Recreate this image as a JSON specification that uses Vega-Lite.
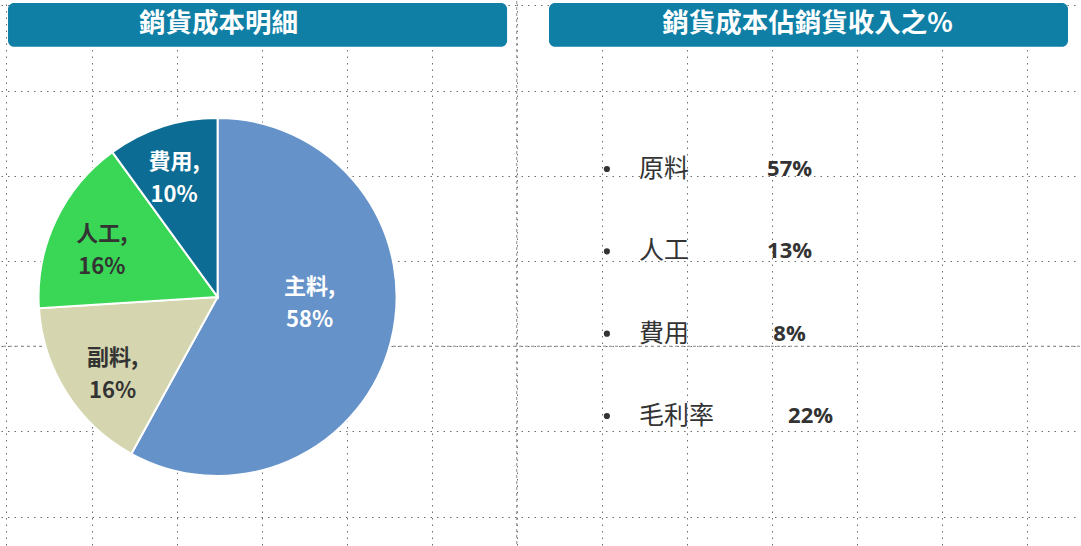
{
  "$schema": "https://vega.github.io/schema/vega-lite/v6.json",
  "width": 1081,
  "height": 546,
  "autosize": {"type": "fit", "contains": "padding"},
  "padding": 0,
  "background": "white",
  "config": {
    "view": {"stroke": null},
    "font": "Noto Sans CJK TC",
    "axis": {"grid": true, "labels": false, "ticks": false, "domain": false, "title": null, "gridDash": [1.5, 5], "gridColor": "#555555", "gridWidth": 1, "gridOpacity": 0.85}
  },
  "datasets": {
    "titles": [
      {"panel": "left", "title": "銷貨成本明細"},
      {"panel": "right", "title": "銷貨成本佔銷貨收入之%"}
    ],
    "pie": [
      {"cat": "主料", "value": 58, "ord": 1},
      {"cat": "副料", "value": 16, "ord": 2},
      {"cat": "人工", "value": 16, "ord": 3},
      {"cat": "費用", "value": 10, "ord": 4}
    ],
    "ratio": [
      {"item": "原料", "pct": 0.57},
      {"item": "人工", "pct": 0.13},
      {"item": "費用", "pct": 0.08},
      {"item": "毛利率", "pct": 0.22}
    ]
  },
  "resolve": {"scale": {"y": "independent"}},
  "layer": [
    {
      "layer": [
        {
          "data": {"values": [{}]},
          "mark": {"type": "rule", "strokeDash": [3, 3], "color": "#8a8a8a", "strokeWidth": 1},
          "encoding": {
            "x": {"datum": 6, "type": "quantitative", "scale": {"domain": [-0.0646, 12.623], "nice": false, "zero": false}, "axis": {"values": [0, 1, 2, 3, 4, 5, 6, 7, 8, 9, 10, 11, 12]}}
          }
        },
        {
          "data": {"values": [{}]},
          "mark": {"type": "rule", "strokeDash": [3, 3], "color": "#8a8a8a", "strokeWidth": 1},
          "encoding": {
            "y": {"datum": 4, "type": "quantitative", "scale": {"domain": [-0.0526, 6.333], "reverse": true, "nice": false, "zero": false}, "axis": {"values": [0, 1, 2, 3, 4, 5, 6]}}
          }
        },
        {
          "data": {"name": "titles"},
          "transform": [{"filter": "datum.panel === 'left'"}],
          "mark": {"type": "rect", "color": "#0F7FA6", "cornerRadius": 6},
          "encoding": {
            "x": {"datum": 0.018, "type": "quantitative"},
            "x2": {"datum": 5.886},
            "y": {"datum": -0.029, "type": "quantitative"},
            "y2": {"datum": 0.485}
          }
        },
        {
          "data": {"name": "titles"},
          "transform": [{"filter": "datum.panel === 'right'"}],
          "mark": {"type": "rect", "color": "#0F7FA6", "cornerRadius": 6},
          "encoding": {
            "x": {"datum": 6.379, "type": "quantitative"},
            "x2": {"datum": 12.482},
            "y": {"datum": -0.029, "type": "quantitative"},
            "y2": {"datum": 0.485}
          }
        },
        {
          "data": {"name": "titles"},
          "transform": [{"filter": "datum.panel === 'left'"}],
          "mark": {"type": "text", "color": "white", "fontSize": 26.5, "fontWeight": "bold", "align": "center", "baseline": "middle"},
          "encoding": {
            "x": {"datum": 2.494, "type": "quantitative"},
            "y": {"datum": 0.216, "type": "quantitative"},
            "text": {"field": "title"}
          }
        },
        {
          "data": {"name": "titles"},
          "transform": [{"filter": "datum.panel === 'right'"}],
          "mark": {"type": "text", "color": "white", "fontSize": 26.5, "fontWeight": "bold", "align": "center", "baseline": "middle"},
          "encoding": {
            "x": {"datum": 9.419, "type": "quantitative"},
            "y": {"datum": 0.216, "type": "quantitative"},
            "text": {"field": "title"}
          }
        },
        {
          "data": {"name": "pie"},
          "mark": {"type": "arc", "outerRadius": 179, "stroke": "white", "strokeWidth": 2},
          "encoding": {
            "theta": {"field": "value", "type": "quantitative", "stack": true},
            "order": {"field": "ord"},
            "color": {"field": "cat", "type": "nominal", "scale": {"domain": ["主料", "副料", "人工", "費用"], "range": ["#6592C9", "#D5D6AF", "#3AD656", "#0C6C93"]}, "legend": null},
            "x": {"datum": 2.482, "type": "quantitative"},
            "y": {"datum": 3.421, "type": "quantitative"}
          }
        },
        {
          "data": {"name": "pie"},
          "transform": [{"calculate": "[datum.cat + ',', datum.value + '%']", "as": "lbl"}],
          "mark": {
            "type": "text",
            "radius": {"expr": "datum.cat === '主料' ? 95 : 128"},
            "dy": {"expr": "datum.cat === '主料' ? -34 : datum.cat === '費用' ? -13 : -8"},
            "dx": {"expr": "datum.cat === '費用' ? -4 : datum.cat === '副料' ? 3 : 0"},
            "fontSize": 22,
            "fontWeight": "bold",
            "lineHeight": 33,
            "align": "center",
            "baseline": "middle"
          },
          "encoding": {
            "theta": {"field": "value", "type": "quantitative", "stack": true},
            "order": {"field": "ord"},
            "x": {"datum": 2.482, "type": "quantitative"},
            "y": {"datum": 3.421, "type": "quantitative"},
            "text": {"field": "lbl"},
            "color": {"condition": {"test": "datum.cat === '主料' || datum.cat === '費用'", "value": "white"}, "value": "#333333"}
          }
        }
      ]
    },
    {
      "layer": [
        {
          "data": {"name": "ratio"},
          "mark": {"type": "point", "filled": true, "size": 38, "color": "#333333", "opacity": 1},
          "encoding": {
            "x": {"datum": 7.06, "type": "quantitative"},
            "y": {"field": "item", "type": "nominal", "sort": null, "scale": {"type": "point", "range": [168, 415], "padding": 0}, "axis": null}
          }
        },
        {
          "data": {"name": "ratio"},
          "mark": {"type": "text", "align": "left", "baseline": "middle", "fontSize": 25, "color": "#333333"},
          "encoding": {
            "x": {"datum": 7.436, "type": "quantitative"},
            "y": {"field": "item", "type": "nominal", "sort": null, "axis": null},
            "text": {"field": "item"}
          }
        },
        {
          "data": {"name": "ratio"},
          "mark": {"type": "text", "align": "center", "baseline": "middle", "fontSize": 22, "fontWeight": "bold", "font": "Open Sans", "color": "#333333", "dx": {"expr": "datum.item === '毛利率' ? 21 : 0"}},
          "encoding": {
            "x": {"datum": 9.208, "type": "quantitative"},
            "y": {"field": "item", "type": "nominal", "sort": null, "axis": null},
            "text": {"field": "pct", "type": "quantitative", "format": ".0%"}
          }
        }
      ]
    }
  ]
}
